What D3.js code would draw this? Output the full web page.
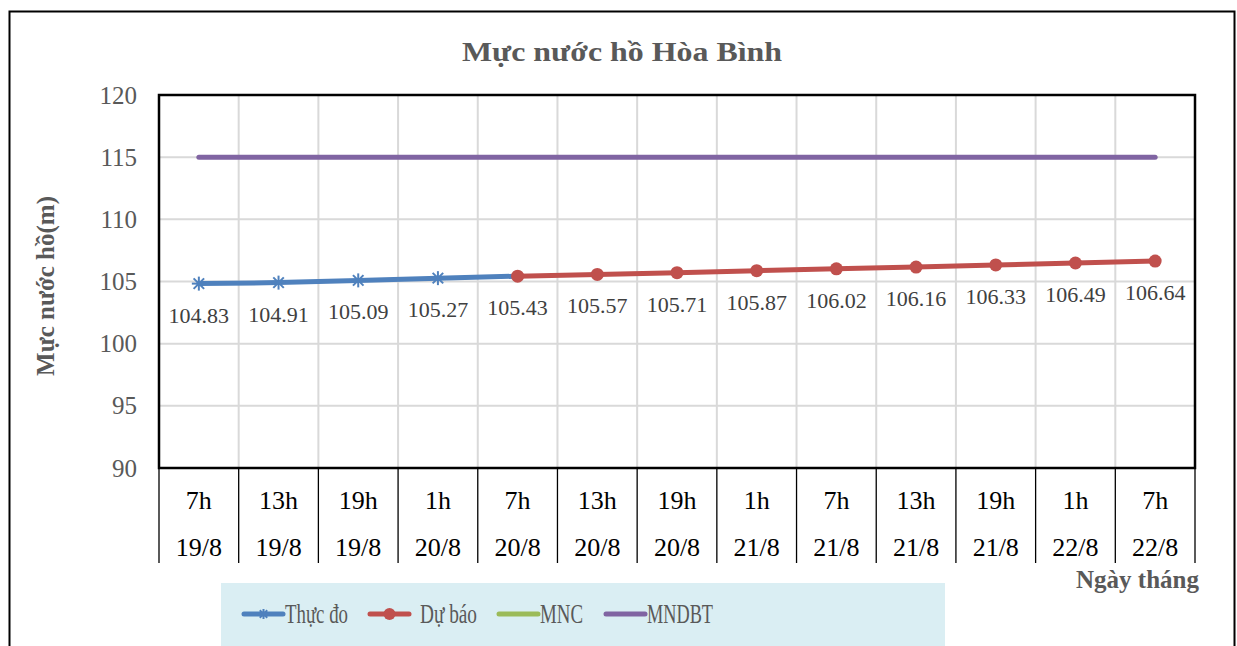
<!DOCTYPE html>
<html><head><meta charset="utf-8">
<script src="https://cdn.jsdelivr.net/npm/d3@7"></script>
<style>html,body{margin:0;padding:0;background:#fff;overflow:hidden}</style>
</head><body>
<svg id="c" width="1237" height="646"></svg>
<script>
const hours = ["7h","13h","19h","1h","7h","13h","19h","1h","7h","13h","19h","1h","7h"];
const dates = ["19/8","19/8","19/8","20/8","20/8","20/8","20/8","21/8","21/8","21/8","21/8","22/8","22/8"];
const thucDo = [104.83,104.91,105.09,105.27,105.43,null,null,null,null,null,null,null,null];
const duBao  = [null,null,null,null,105.43,105.57,105.71,105.87,106.02,106.16,106.33,106.49,106.64];
const mnc    = [null,null,null,null,null,null,null,null,null,null,null,null,null];
const mndbt  = [115,115,115,115,115,115,115,115,115,115,115,115,115];
const yTicks = [90,95,100,105,110,115,120];
const title = "Mực nước hồ Hòa Bình";
const yTitle = "Mực nước hồ(m)";
const xTitle = "Ngày tháng";
const legendNames = ["Thực đo","Dự báo","MNC","MNDBT"];
const colors = {blue:"#4F81BD", red:"#C0504D", green:"#9BBB59", purple:"#8064A2"};

const svg = d3.select("#c");
const font = "Liberation Serif, Times New Roman, serif";
const L=159, R=1195, T=95, B=468;
const idx = d3.range(hours.length);
const x = d3.scaleBand().domain(idx).range([L,R]).padding(0);
const xc = i => x(i)+x.bandwidth()/2;
const y = d3.scaleLinear().domain([90,120]).range([B,T]);

// outer border
svg.append("rect").attr("x",9.5).attr("y",11.5).attr("width",1225).attr("height",700)
  .attr("fill","#fff").attr("stroke","#000").attr("stroke-width",2);

// title
svg.append("text").attr("x",622).attr("y",61).attr("text-anchor","middle")
  .style("font-family",font).attr("font-weight","bold").attr("font-size",28)
  .attr("textLength",320).attr("lengthAdjust","spacingAndGlyphs")
  .attr("fill","#595959").text(title);

// gridlines
const g = svg.append("g");
g.selectAll("line.h").data(yTicks).join("line")
  .attr("x1",L).attr("x2",R).attr("y1",d=>y(d)).attr("y2",d=>y(d))
  .attr("stroke","#D9D9D9").attr("stroke-width",2);
g.selectAll("line.v").data(idx.slice(1)).join("line")
  .attr("x1",d=>x(d)).attr("x2",d=>x(d)).attr("y1",T).attr("y2",B)
  .attr("stroke","#D9D9D9").attr("stroke-width",2);

// y axis labels
const yAxis = d3.axisLeft(y).tickValues(yTicks).tickSize(0).tickPadding(22);
const ya = svg.append("g").attr("transform",`translate(${L},0)`).call(yAxis);
ya.attr("font-family",null);
ya.select(".domain").remove();
ya.selectAll("text").style("font-family",font).attr("font-size",25).attr("fill","#595959");

// category axis
const xa = svg.append("g");
const bounds = idx.map(i=>x(i)).concat([R]);
xa.selectAll("line").data(bounds).join("line")
  .attr("x1",d=>d).attr("x2",d=>d).attr("y1",B).attr("y2",563)
  .attr("stroke","#000").attr("stroke-width",1.3);
xa.selectAll("text.h").data(idx).join("text").attr("class","h")
  .attr("x",xc).attr("y",509).attr("text-anchor","middle")
  .style("font-family",font).attr("font-size",26).attr("fill","#000").text(i=>hours[i]);
xa.selectAll("text.d").data(idx).join("text").attr("class","d")
  .attr("x",xc).attr("y",556).attr("text-anchor","middle")
  .style("font-family",font).attr("font-size",26).attr("fill","#000").text(i=>dates[i]);

// plot border
svg.append("rect").attr("x",L).attr("y",T).attr("width",R-L).attr("height",B-T)
  .attr("fill","none").attr("stroke","#000").attr("stroke-width",2.5);

// axis titles
svg.append("text").attr("transform","translate(54,286) rotate(-90)").attr("text-anchor","middle")
  .style("font-family",font).attr("font-weight","bold").attr("font-size",25).attr("fill","#595959").text(yTitle);
svg.append("text").attr("x",1199).attr("y",588).attr("text-anchor","end")
  .style("font-family",font).attr("font-weight","bold").attr("font-size",25).attr("fill","#595959").text(xTitle);

// lines
const line = d3.line().defined(d=>d[1]!=null).x(d=>xc(d[0])).y(d=>y(d[1]));
function series(vals,color){
  svg.append("path").datum(vals.map((v,i)=>[i,v])).attr("d",line)
    .attr("fill","none").attr("stroke",color).attr("stroke-width",5).attr("stroke-linecap","round").attr("stroke-linejoin","round");
}
series(mndbt,colors.purple);
series(mnc,colors.green);
series(thucDo,colors.blue);
series(duBao,colors.red);

// star markers
function star(sel,cx,cy,r,color){
  const gg = sel.append("g").attr("stroke",color).attr("stroke-width",2);
  [[-r,0,r,0],[0,-r,0,r],[-r*0.75,-r*0.75,r*0.75,r*0.75],[-r*0.75,r*0.75,r*0.75,-r*0.75]].forEach(s=>{
    gg.append("line").attr("x1",cx+s[0]).attr("y1",cy+s[1]).attr("x2",cx+s[2]).attr("y2",cy+s[3]);
  });
}
thucDo.forEach((v,i)=>{ if(v!=null && duBao[i]==null) star(svg,xc(i),y(v),7,colors.blue); });
svg.selectAll("circle.db").data(duBao.map((v,i)=>[i,v]).filter(d=>d[1]!=null)).join("circle")
  .attr("cx",d=>xc(d[0])).attr("cy",d=>y(d[1])).attr("r",6.5).attr("fill",colors.red);

// data labels
const labels = idx.map(i=>duBao[i]!=null?duBao[i]:thucDo[i]);
svg.selectAll("text.lbl").data(labels.map((v,i)=>[i,v])).join("text")
  .attr("x",d=>xc(d[0])).attr("y",d=>y(d[1])+39).attr("text-anchor","middle")
  .style("font-family",font).attr("font-size",22).attr("fill","#404040").text(d=>d[1].toFixed(2));

// legend
svg.append("rect").attr("x",221).attr("y",583).attr("width",724).attr("height",70).attr("fill","#DAEEF3");
const lx = [244,370,499,606];
const tx = [285,420,540,647];
const tw = [63,57,43,66];
const lc = [colors.blue,colors.red,colors.green,colors.purple];
const ly = 614;
legendNames.forEach((n,k)=>{
  svg.append("line").attr("x1",lx[k]).attr("x2",lx[k]+39).attr("y1",ly).attr("y2",ly)
    .attr("stroke",lc[k]).attr("stroke-width",5).attr("stroke-linecap","round");
  if(k===0) star(svg,lx[k]+19.5,ly,5,lc[k]);
  if(k===1) svg.append("circle").attr("cx",lx[k]+19.5).attr("cy",ly).attr("r",6).attr("fill",lc[k]);
  svg.append("text").attr("x",tx[k]).attr("y",ly+9).style("font-family",font)
    .attr("font-size",27).attr("textLength",tw[k]).attr("lengthAdjust","spacingAndGlyphs")
    .attr("fill","#595959").text(n);
});
</script>
</body></html>
